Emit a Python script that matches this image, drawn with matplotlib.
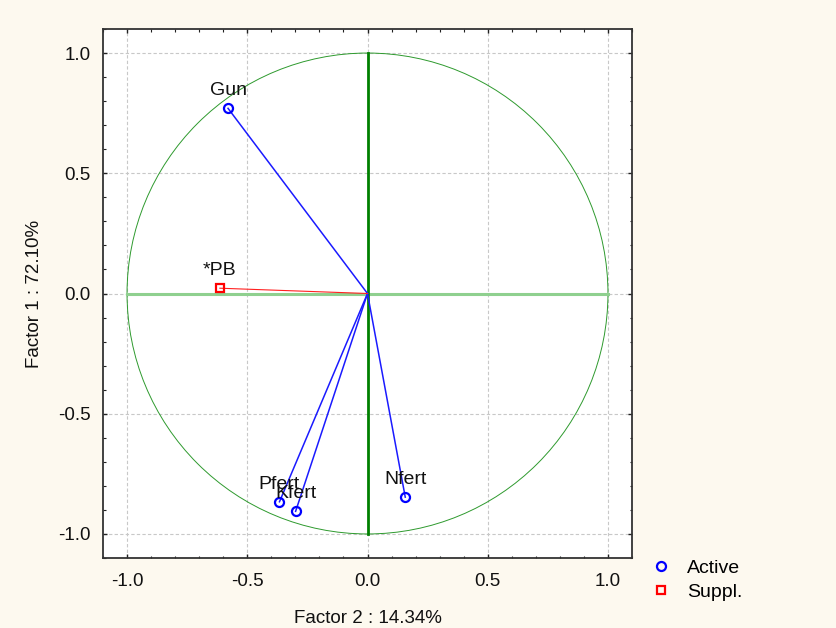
import matplotlib
matplotlib.use("Agg")
import matplotlib.pyplot as plt
from matplotlib.patches import Circle
from matplotlib.lines import Line2D
from matplotlib.ticker import MultipleLocator

plt.rcParams['font.family'] = ['Liberation Sans', 'DejaVu Sans']

# Data
active_names = ["Gun", "Pfert", "Kfert", "Nfert"]
active_f2 = [-0.580, -0.366, -0.299, 0.157]
active_f1 = [0.770, -0.866, -0.906, -0.847]
suppl_names = ["*PB"]
suppl_f2 = [-0.614]
suppl_f1 = [0.022]
xlabel = "Factor 2 : 14.34%"
ylabel = "Factor 1 : 72.10%"
ticks = [-1.0, -0.5, 0.0, 0.5, 1.0]

W, H = 836, 628
fig = plt.figure(figsize=(W / 100, H / 100), dpi=100, facecolor="#fdf9ef")
ax = fig.add_axes([103 / W, (H - 558) / H, 529 / W, 529 / H])
ax.set_facecolor("white")
ax.set_xlim(-1.1, 1.1)
ax.set_ylim(-1.1, 1.1)

fs = 13.5
fs_pt = 14
ax.set_xticks(ticks)
ax.set_yticks(ticks)
ax.set_xticklabels([f"{t:.1f}" for t in ticks], fontsize=fs, color="#111111")
ax.set_yticklabels([f"{t:.1f}" for t in ticks], fontsize=fs, color="#111111")
ax.xaxis.set_minor_locator(MultipleLocator(0.1))
ax.yaxis.set_minor_locator(MultipleLocator(0.1))
ax.tick_params(which="both", direction="in", top=True, right=True, color="#222222")
ax.tick_params(which="major", length=3.0, width=1.0, pad=9)
ax.tick_params(axis="x", which="major", pad=11)
ax.tick_params(which="minor", length=1.8, width=0.8)
ax.grid(True, which="major", color="#c8c8c8", linestyle=(0, (3, 2)), linewidth=0.8)
ax.set_axisbelow(True)
for s in ax.spines.values():
    s.set_color("#333333")
    s.set_linewidth(1.3)

ax.set_xlabel(xlabel, fontsize=fs, labelpad=14, color="#111111")
ax.set_ylabel(ylabel, fontsize=fs, labelpad=11, color="#111111")

# unit circle and axes lines
ax.add_patch(Circle((0, 0), 1.0, fill=False, edgecolor="#2e9a2e", linewidth=0.7, zorder=2))
ax.plot([-1, 1], [0, 0], color="#8fd08f", linewidth=2.2, zorder=2)
ax.plot([0, 0], [-1, 1], color="#008000", linewidth=2.0, zorder=2)

# vectors
for x, y in zip(active_f2, active_f1):
    ax.plot([0, x], [0, y], color="#1a1aff", linewidth=1.1, zorder=3)
for x, y in zip(suppl_f2, suppl_f1):
    ax.plot([0, x], [0, y], color="#ff2020", linewidth=0.8, zorder=3)

ax.plot(active_f2, active_f1, linestyle="none", marker="o", markersize=6.5,
        markerfacecolor="none", markeredgecolor="#0000ff", markeredgewidth=1.6, zorder=4)
ax.plot(suppl_f2, suppl_f1, linestyle="none", marker="s", markersize=6,
        markerfacecolor="none", markeredgecolor="#ff0000", markeredgewidth=1.6, zorder=4)

for n, x, y in zip(active_names + suppl_names, active_f2 + suppl_f2, active_f1 + suppl_f1):
    ax.annotate(n, (x, y), xytext=(0, 12.5), textcoords="offset points",
                ha="center", va="center", fontsize=fs_pt, color="#111111", zorder=5)

handles = [
    Line2D([], [], linestyle="none", marker="o", markersize=6.5, markerfacecolor="none",
           markeredgecolor="#0000ff", markeredgewidth=1.6),
    Line2D([], [], linestyle="none", marker="s", markersize=6, markerfacecolor="none",
           markeredgecolor="#ff0000", markeredgewidth=1.6),
]
lfs = 14
fig.legend(handles, ["Active", "Suppl."], loc="center left",
           bbox_to_anchor=(651.0 / W, 48.0 / H), frameon=False, fontsize=lfs,
           handlelength=1.0, handletextpad=0.85, borderpad=0, borderaxespad=0,
           labelspacing=0.3)

fig.savefig("out.png", dpi=100, facecolor=fig.get_facecolor())
